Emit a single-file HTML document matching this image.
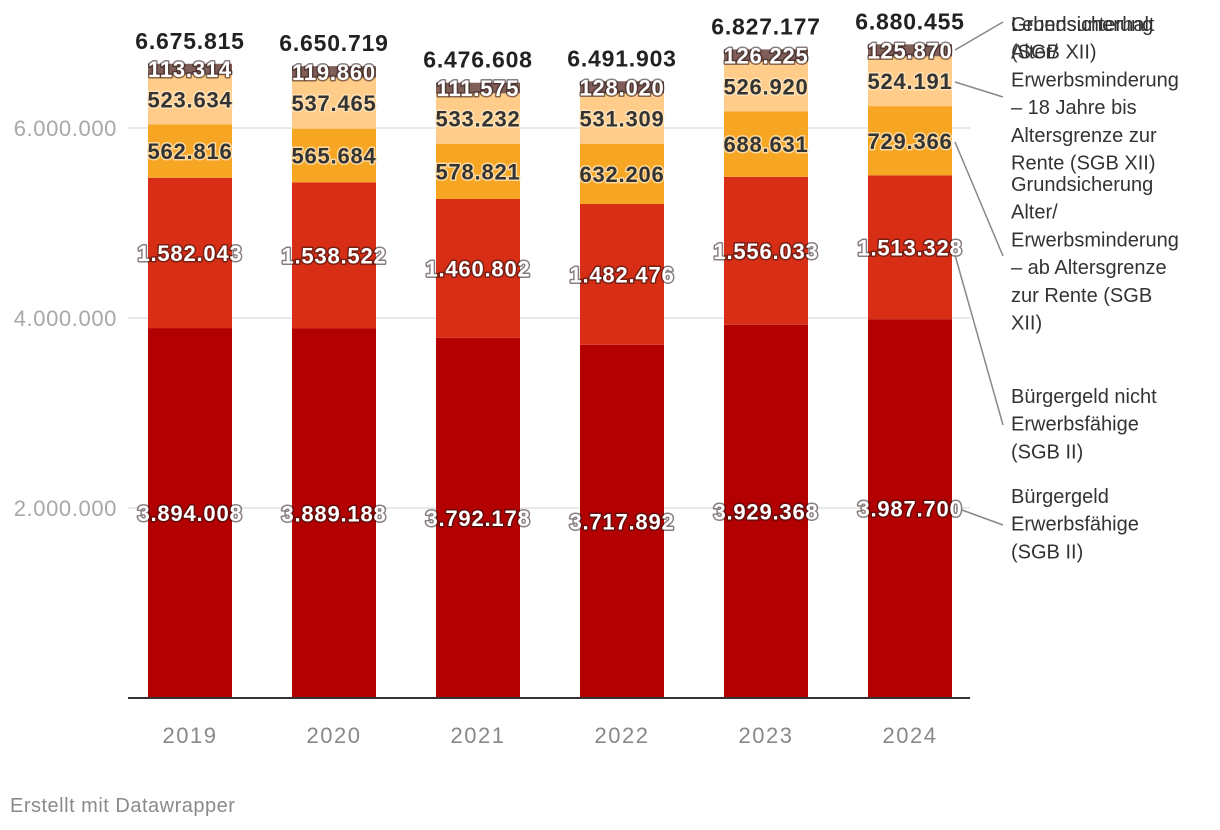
<!DOCTYPE html>
<html><head><meta charset="utf-8"><style>
html,body{margin:0;padding:0;background:#fff;}
svg{display:block;font-family:"Liberation Sans",sans-serif;}
</style></head><body>
<svg id="chart" width="1220" height="830" xmlns="http://www.w3.org/2000/svg"></svg>
<script>
const years = ["2019","2020","2021","2022","2023","2024"];
const erwerbsfaehige = [3894008,3889188,3792178,3717892,3929368,3987700];
const nichtErwerbsfaehige = [1582043,1538522,1460802,1482476,1556033,1513328];
const grundsicherungAlter = [562816,565684,578821,632206,688631,729366];
const grundsicherung18 = [523634,537465,533232,531309,526920,524191];
const lebensunterhalt = [113314,119860,111575,128020,126225,125870];
const totals = [6675815,6650719,6476608,6491903,6827177,6880455];
const yTicks = [2000000,4000000,6000000];
const yTickLabels = ["2.000.000","4.000.000","6.000.000"];

const svg = document.getElementById('chart');
const NS = "http://www.w3.org/2000/svg";
const y0 = 698, pxPerUnit = 190/2000000;
const yScale = v => y0 - v*pxPerUnit;
const xCenter = i => 190 + i*144;
const barW = 84;
const fmt = v => String(v).replace(/\B(?=(\d{3})+(?!\d))/g, ".");

function el(tag, attrs, parent){
  const e = document.createElementNS(NS, tag);
  for (const k in attrs) e.setAttribute(k, attrs[k]);
  (parent||svg).appendChild(e);
  return e;
}

yTicks.forEach((t,i)=>{
  const g = el('line',{x1:128,x2:970,y1:yScale(t),y2:yScale(t),stroke:'#e2e2e2','stroke-width':1.5});
  
  
  const tx = el('text',{x:117,y:yScale(t)+8,'text-anchor':'end','font-size':22,'letter-spacing':0.6,fill:'#a8a8a8'});
  tx.textContent = yTickLabels[i];
  
  
});

const series = [
  {vals:erwerbsfaehige, color:'#b30000', light:true, name:'buergergeld-erwerbsfaehige'},
  {vals:nichtErwerbsfaehige, color:'#d92e16', light:true, name:'buergergeld-nicht-erwerbsfaehige'},
  {vals:grundsicherungAlter, color:'#f6a623', light:false, name:'grundsicherung-ab-altersgrenze'},
  {vals:grundsicherung18, color:'#ffcc8a', light:false, name:'grundsicherung-18-bis-altersgrenze'},
  {vals:lebensunterhalt, color:'#7f5f58', light:true, name:'lebensunterhalt'}
];

years.forEach((yr,i)=>{
  let cum = 0;
  const cx = xCenter(i);
  series.forEach(s=>{
    const v = s.vals[i];
    const yT = yScale(cum+v), yB = yScale(cum);
    const r = el('rect',{x:cx-barW/2,y:yT,width:barW,height:yB-yT,fill:s.color});
    
    
    cum += v;
  });
  cum = 0;
  series.forEach(s=>{
    const v = s.vals[i];
    const mid = (yScale(cum+v)+yScale(cum))/2;
    const t = el('text',{x:cx,y:mid+8,'text-anchor':'middle','font-size':22,'letter-spacing':0.8,'font-weight':'bold',
      fill:s.light?'#fff':'#333',stroke:s.light?'rgba(40,20,20,0.55)':'rgba(255,230,190,0.8)','stroke-width':3,'paint-order':'stroke','stroke-linejoin':'round'});
    t.textContent = fmt(v);
    
    
    cum += v;
  });
  const tt = el('text',{x:cx,y:yScale(totals[i])-15,'text-anchor':'middle','font-size':23,'letter-spacing':0.8,'font-weight':'bold',fill:'#222'});
  tt.textContent = fmt(totals[i]);
  
  
  const xl = el('text',{x:cx,y:743,'text-anchor':'middle','font-size':22,'letter-spacing':1.5,fill:'#888'});
  xl.textContent = yr;
  
  
});

const ax = el('line',{x1:128,x2:970,y1:y0,y2:y0,stroke:'#333','stroke-width':2});



const legend = [
  {lines:["Lebensunterhalt","(SGB XII)"], y:31, line:[955,50,1003,22]},
  {lines:["Grundsicherung","Alter/","Erwerbsminderung","– 18 Jahre bis","Altersgrenze zur","Rente (SGB XII)"], y:31, line:[955,82,1003,97]},
  {lines:["Grundsicherung","Alter/","Erwerbsminderung","– ab Altersgrenze","zur Rente (SGB","XII)"], y:191, line:[955,142,1003,256]},
  {lines:["Bürgergeld nicht","Erwerbsfähige","(SGB II)"], y:403, line:[955,255,1003,425]},
  {lines:["Bürgergeld","Erwerbsfähige","(SGB II)"], y:503, line:[962,510,1003,525]}
];
legend.forEach(L=>{
  const ln = el('line',{x1:L.line[0],y1:L.line[1],x2:L.line[2],y2:L.line[3],stroke:'#888','stroke-width':1.5});
  
  
  L.lines.forEach((s,j)=>{
    const t = el('text',{x:1011,y:L.y+j*27.7,'font-size':20,fill:'#333'});
    t.textContent = s;
    
    
  });
});

const ft = el('text',{x:10,y:812,'font-size':20,'letter-spacing':0.5,fill:'#8a8a8a'});
ft.textContent = "Erstellt mit Datawrapper";


</script>
</body></html>
